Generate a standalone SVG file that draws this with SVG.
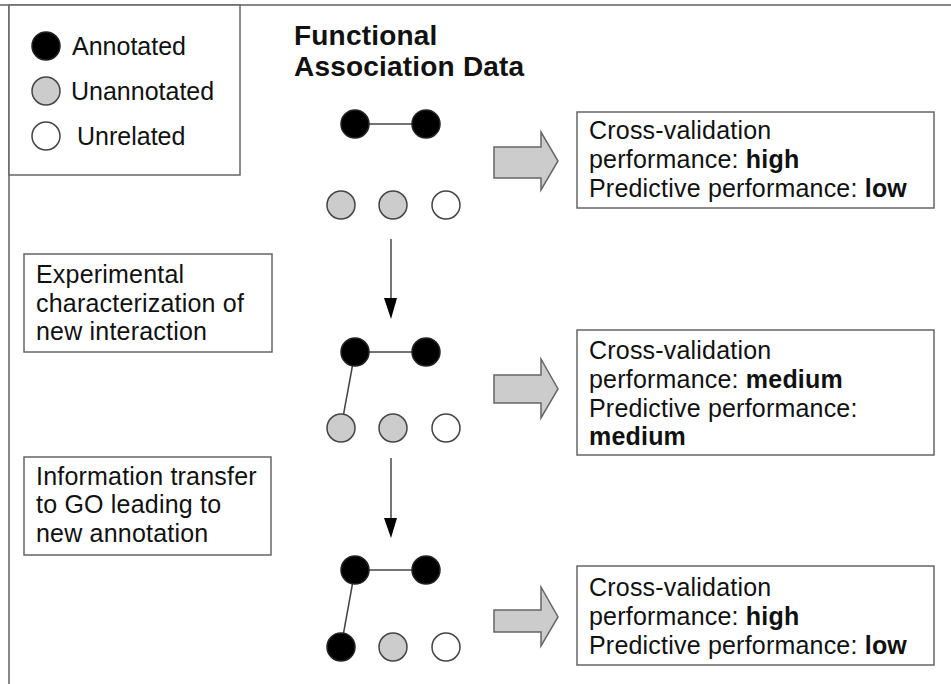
<svg xmlns="http://www.w3.org/2000/svg" width="951" height="684" viewBox="0 0 951 684">
<defs>
<style>
text{font-family:"Liberation Sans",Arial,sans-serif;font-size:25px;fill:#111;}
.t{letter-spacing:0.2px;}
.b{font-weight:bold;}
.title{font-weight:bold;font-size:28px;letter-spacing:0.2px;}
.box{fill:#fff;stroke:#666;stroke-width:1.5;}
.blk{fill:#000;stroke:#222;stroke-width:1.5;}
.gry{fill:#ccc;stroke:#444;stroke-width:1.5;}
.wht{fill:#fff;stroke:#444;stroke-width:1.5;}
.edge{stroke:#444;stroke-width:1.5;fill:none;}
.big{fill:#ccc;stroke:#666;stroke-width:1.5;}
.down{stroke:#777;stroke-width:2;fill:none;}
</style>
</defs>
<rect width="951" height="684" fill="#fff"/>
<g id="frame">
<line x1="0" y1="5" x2="951" y2="5" stroke="#888" stroke-width="2"/>
<line x1="9" y1="5" x2="9" y2="684" stroke="#888" stroke-width="2"/>
</g>
<g id="legend">
<rect class="box" x="9" y="5" width="231" height="170"/>
<circle class="blk" cx="46" cy="46" r="14"/>
<circle class="gry" cx="46" cy="91" r="14"/>
<circle class="wht" cx="46" cy="136" r="14"/>
<text x="72" y="55">Annotated</text>
<text x="71" y="100">Unannotated</text>
<text x="77" y="145">Unrelated</text>
</g>
<g id="title">
<text class="title" x="294" y="45">Functional</text>
<text class="title" x="294" y="76">Association Data</text>
</g>
<g id="connectors">
<line class="edge" x1="355" y1="124" x2="426" y2="124"/>
<line class="edge" x1="355" y1="352" x2="426" y2="352"/>
<line class="edge" x1="355" y1="352" x2="341" y2="428"/>
<line class="edge" x1="355" y1="570" x2="426" y2="570"/>
<line class="edge" x1="355" y1="570" x2="341" y2="647"/>
<line class="down" x1="391" y1="239" x2="391" y2="300"/>
<polygon points="384,298 397,298 391,319" fill="#000"/>
<line class="down" x1="391" y1="458" x2="391" y2="520"/>
<polygon points="384,518 397,518 391,538" fill="#000"/>
<polygon class="big" points="494,147 541,147 541,132 558,161 541,190 541,178 494,178"/>
<polygon class="big" points="494,375 541,375 541,359 558,389 541,418 541,403 494,403"/>
<polygon class="big" points="494,610 541,610 541,587 558,617 541,646 541,632 494,632"/>
</g>
<g id="graph1">
<circle class="blk" cx="355" cy="124" r="14"/>
<circle class="blk" cx="426" cy="124" r="14"/>
<circle class="gry" cx="341" cy="205" r="14"/>
<circle class="gry" cx="393" cy="205" r="14"/>
<circle class="wht" cx="446" cy="205" r="14"/>
</g>
<g id="graph2">
<circle class="blk" cx="355" cy="352" r="14"/>
<circle class="blk" cx="426" cy="352" r="14"/>
<circle class="gry" cx="341" cy="428" r="14"/>
<circle class="gry" cx="393" cy="428" r="14"/>
<circle class="wht" cx="446" cy="428" r="14"/>
</g>
<g id="graph3">
<circle class="blk" cx="355" cy="570" r="14"/>
<circle class="blk" cx="426" cy="570" r="14"/>
<circle class="blk" cx="341" cy="647" r="14"/>
<circle class="gry" cx="393" cy="647" r="14"/>
<circle class="wht" cx="446" cy="647" r="14"/>
</g>
<g id="step1">
<rect class="box" x="24" y="254" width="248" height="98"/>
<text class="t" x="36" y="283">Experimental</text>
<text class="t" x="36" y="312">characterization of</text>
<text class="t" x="36" y="340">new interaction</text>
</g>
<g id="step2">
<rect class="box" x="24" y="457" width="247" height="98"/>
<text class="t" x="36" y="485">Information transfer</text>
<text class="t" x="36" y="513">to GO leading to</text>
<text class="t" x="36" y="542">new annotation</text>
</g>
<g id="result1">
<rect class="box" x="577" y="112" width="357" height="96"/>
<text class="t" x="589" y="139">Cross-validation</text>
<text class="t" x="589" y="168">performance: <tspan class="b">high</tspan></text>
<text class="t" x="589" y="197">Predictive performance: <tspan class="b">low</tspan></text>
</g>
<g id="result2">
<rect class="box" x="577" y="330" width="357" height="125"/>
<text class="t" x="589" y="359">Cross-validation</text>
<text class="t" x="589" y="388">performance: <tspan class="b">medium</tspan></text>
<text class="t" x="589" y="417">Predictive performance:</text>
<text class="t b" x="589" y="445">medium</text>
</g>
<g id="result3">
<rect class="box" x="577" y="566" width="357" height="99"/>
<text class="t" x="589" y="596">Cross-validation</text>
<text class="t" x="589" y="625">performance: <tspan class="b">high</tspan></text>
<text class="t" x="589" y="654">Predictive performance: <tspan class="b">low</tspan></text>
</g>
</svg>
